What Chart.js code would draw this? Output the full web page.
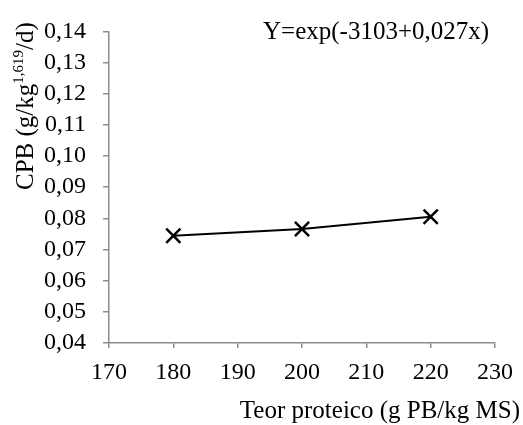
<!DOCTYPE html>
<html>
<head>
<meta charset="utf-8">
<script src="https://cdn.jsdelivr.net/npm/chart.js@4"></script>
<style>
  html, body { margin: 0; padding: 0; background: #fff; }
  #chart { display: block; }
</style>
</head>
<body>
<canvas id="chart" width="523" height="425"></canvas>
<script>
var proteinLevels = [180, 200, 220];
var cpbValues = [0.0744, 0.0766, 0.0805];
var xTicks = [170, 180, 190, 200, 210, 220, 230];
var yTicks = [0.04, 0.05, 0.06, 0.07, 0.08, 0.09, 0.10, 0.11, 0.12, 0.13, 0.14];
var equationText = "Y=exp(-3103+0,027x)";
var xTitle = "Teor proteico (g PB/kg MS)";
var yTitleParts = ["CPB (g/kg", "1,619", "/d)"];

var FONT = "'Liberation Serif', 'Times New Roman', serif";
var AXIS_GREY = "#8c8c8c";

// titles and equation drawn by hand (superscript in the y title)
var textPlugin = {
  id: "texts",
  afterDraw: function (chart) {
    var ctx = chart.ctx;
    ctx.save();
    ctx.fillStyle = "#000";

    ctx.font = "25px " + FONT;
    ctx.textAlign = "left";
    ctx.textBaseline = "alphabetic";
    ctx.fillText(equationText, 263, 39);

    ctx.textAlign = "right";
    ctx.fillText(xTitle, 520, 418);

    ctx.textAlign = "left";
    ctx.translate(33, 190);
    ctx.rotate(-Math.PI / 2);
    var x = 0;
    ctx.font = "25px " + FONT;
    ctx.fillText(yTitleParts[0], x, 0);
    x += ctx.measureText(yTitleParts[0]).width;
    ctx.font = "15px " + FONT;
    ctx.fillText(yTitleParts[1], x, -10);
    x += ctx.measureText(yTitleParts[1]).width;
    ctx.font = "25px " + FONT;
    ctx.fillText(yTitleParts[2], x, 0);
    ctx.restore();
  }
};

function commaFormat(v) {
  return v.toFixed(2).replace(".", ",");
}

new Chart(document.getElementById("chart"), {
  type: "scatter",
  data: {
    datasets: [{
      data: proteinLevels.map(function (p, i) { return { x: p, y: cpbValues[i] }; }),
      showLine: true,
      borderColor: "#000",
      borderWidth: 2,
      pointStyle: "crossRot",
      pointRadius: 10,
      pointBorderWidth: 2.5,
      pointBorderColor: "#000",
      pointBackgroundColor: "#000"
    }]
  },
  options: {
    responsive: false,
    animation: false,
    layout: { padding: { left: 40, right: 27, top: 25, bottom: 0 } },
    plugins: { legend: { display: false }, tooltip: { enabled: false } },
    scales: {
      x: {
        type: "linear",
        min: 170,
        max: 230,
        afterBuildTicks: function (s) { s.ticks = xTicks.map(function (v) { return { value: v }; }); },
        afterFit: function (s) { s.height = 82; },
        grid: { drawOnChartArea: false, drawTicks: true, tickLength: 5, color: AXIS_GREY, lineWidth: 1.5 },
        border: { color: AXIS_GREY, width: 1.5 },
        ticks: { color: "#000", font: { family: FONT, size: 24 }, padding: 10, autoSkip: false, maxRotation: 0 }
      },
      y: {
        type: "linear",
        min: 0.04,
        max: 0.14,
        afterBuildTicks: function (s) { s.ticks = yTicks.map(function (v) { return { value: v }; }); },
        afterFit: function (s) { s.width = 69; },
        grid: { drawOnChartArea: false, drawTicks: true, tickLength: 6, color: AXIS_GREY, lineWidth: 1.5 },
        border: { color: AXIS_GREY, width: 1.5 },
        ticks: { color: "#000", font: { family: FONT, size: 24 }, padding: 17, autoSkip: false, callback: commaFormat }
      }
    }
  },
  plugins: [textPlugin]
});
</script>
</body>
</html>
